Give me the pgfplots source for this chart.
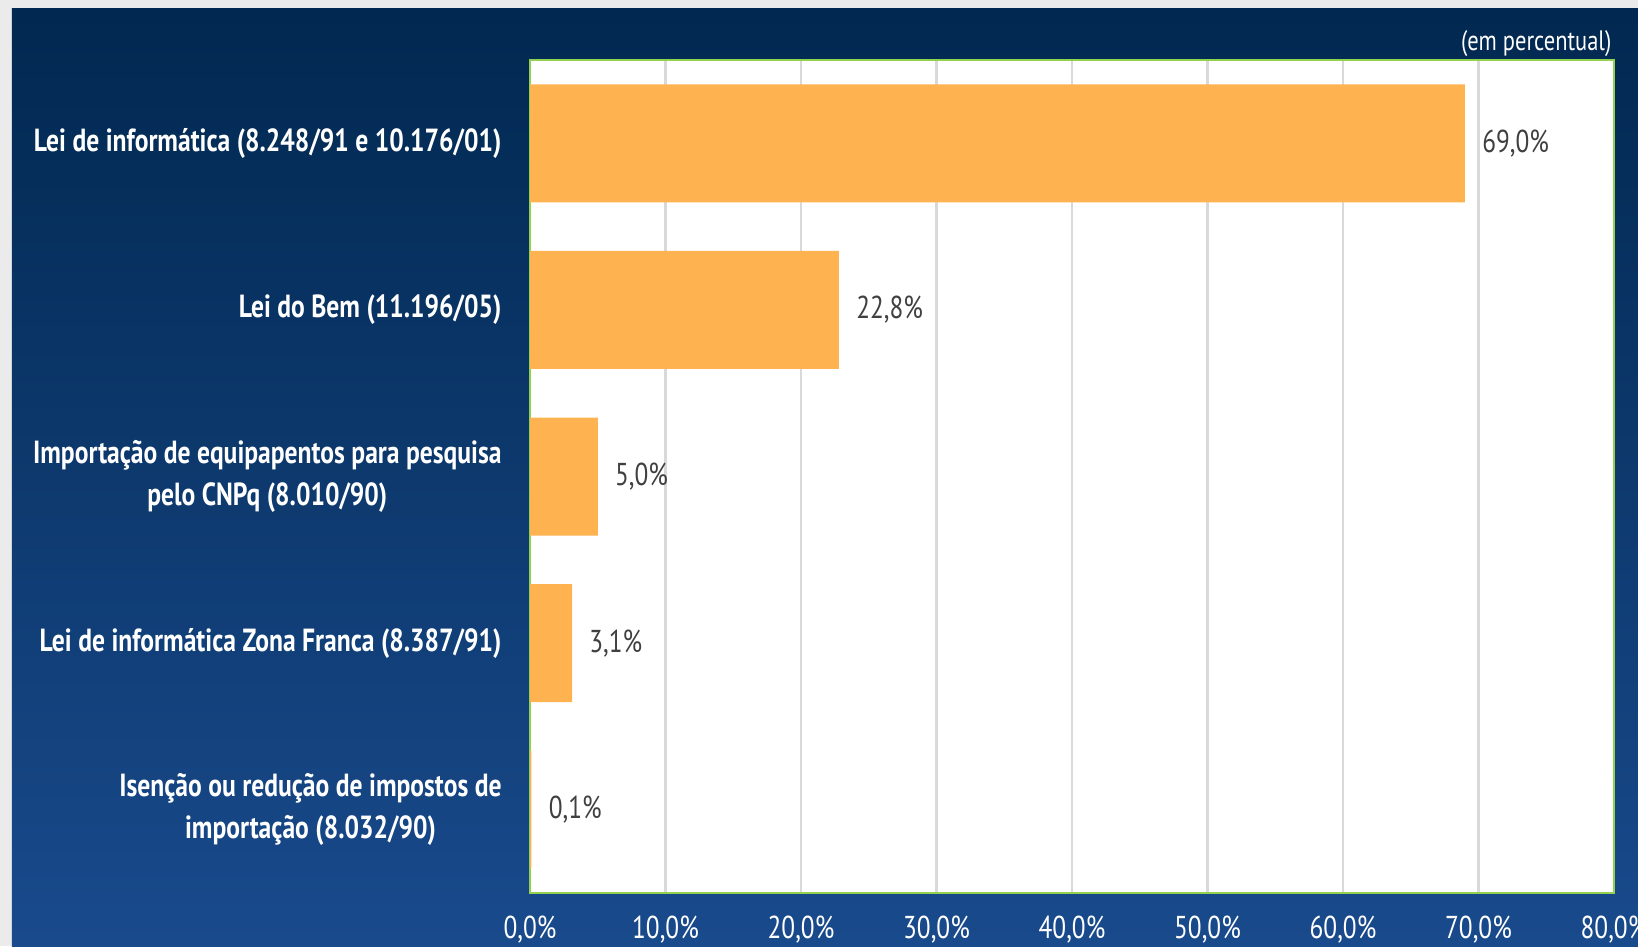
\documentclass[border=0pt]{standalone}
\usepackage{fontspec}
\setmainfont{PT Sans}[FakeStretch=0.8]
\usepackage{pgfplots}
\pgfplotsset{compat=1.18}

\definecolor{navytop}{RGB}{1,40,80}
\definecolor{navybot}{RGB}{25,74,140}
\definecolor{barorange}{RGB}{255,179,80}
\definecolor{framegreen}{RGB}{146,208,80}
\definecolor{gridgray}{RGB}{217,217,217}
\definecolor{labelgray}{RGB}{64,64,64}

\begin{document}
\begin{tikzpicture}
\clip (0,0) rectangle (16.38,9.46);
\fill[black!8] (0,0) rectangle (16.38,9.46);
\shade[top color=navytop, bottom color=navybot] (0.12,0) rectangle (16.38,9.37);
\begin{axis}[
    at={(5.30cm,0.53cm)}, anchor=south west,
    scale only axis,
    width=10.84cm, height=8.33cm,
    xbar, bar width=1.18cm,
    xmin=0, xmax=80,
    ymin=-0.5, ymax=4.5,
    y dir=reverse,
    axis background/.style={fill=white},
    axis line style={framegreen, line width=0.8pt},
    xmajorgrids,
    grid style={gridgray, line width=0.6pt},
    major tick length=0pt,
    /pgf/number format/assume math mode=true,
    ytick={0,1,2,3,4},
    yticklabels={
        {Lei de informática (8.248/91 e 10.176/01)},
        {Lei do Bem (11.196/05)},
        {Importação de equipapentos para pesquisa\\pelo CNPq (8.010/90)},
        {Lei de informática Zona Franca (8.387/91)},
        {Isenção ou redução de impostos de\\importação (8.032/90)}},
    yticklabel style={white, font=\fontsize{9.1}{12}\selectfont\bfseries, align=center, xshift=-0.16cm},
    xtick={0,10,...,80},
    xticklabels={{0,0\%},{10,0\%},{20,0\%},{30,0\%},{40,0\%},{50,0\%},{60,0\%},{70,0\%},{80,0\%}},
    xticklabel style={white, font=\fontsize{9}{11}\selectfont, yshift=-0.1cm},
    nodes near coords={\pgfmathprintnumber[fixed,fixed zerofill,precision=1,use comma,assume math mode=true]{\pgfplotspointmeta}\%},
    nodes near coords style={labelgray, font=\fontsize{9}{11}\selectfont, anchor=west, xshift=0.05cm},
    point meta=explicit,
]
\addplot[fill=barorange, draw=none] coordinates {
    (69.0,0) [69.0]
    (22.8,1) [22.8]
    (5.0,2)  [5.0]
    (3.1,3)  [3.1]
    (0.1,4)  [0.1]
};
\end{axis}
\node[anchor=east, inner sep=0pt, white, font=\fontsize{8}{10}\selectfont] at (16.12,9.02) {(em percentual)};
\end{tikzpicture}
\end{document}
